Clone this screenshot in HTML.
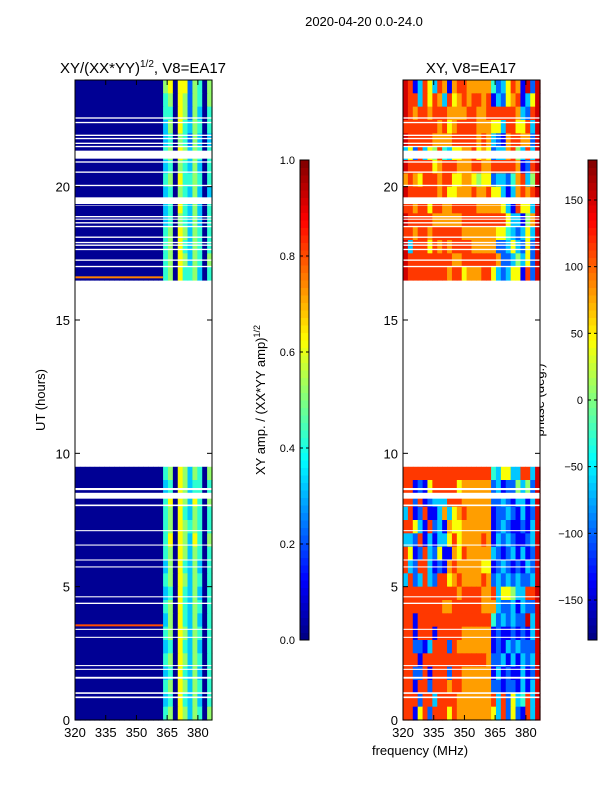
<!DOCTYPE html>
<html><head><meta charset="utf-8"><style>
body{margin:0;background:#fff;}
svg{display:block;font-family:"Liberation Sans",sans-serif;}
text{fill:#000;}
</style></head><body>
<svg id="fig" width="600" height="800" viewBox="0 0 600 800">
<rect width="600" height="800" fill="#fff"/>
<text x="364" y="26" font-size="13" text-anchor="middle">2020-04-20 0.0-24.0</text>
<text x="143" y="73" font-size="15" text-anchor="middle">XY/(XX*YY)<tspan font-size="10" dy="-6">1/2</tspan><tspan dy="6">, V8=EA17</tspan></text>
<text x="471" y="73" font-size="15" text-anchor="middle">XY, V8=EA17</text>
<text transform="translate(45,400) rotate(-90)" font-size="13" text-anchor="middle">UT (hours)</text>
<text x="420" y="755" font-size="13" text-anchor="middle">frequency (MHz)</text>
<text transform="translate(265,400) rotate(-90)" font-size="13" text-anchor="middle">XY amp. / (XX*YY amp)<tspan font-size="9" dy="-5">1/2</tspan></text>
<text transform="translate(544,400) rotate(-90)" font-size="13" text-anchor="middle">phase (deg.)</text>
<g id="p1"></g>
<g id="p2"></g>
<g id="cb"></g>
<g id="ax"></g>
</svg>
<script>
// ---- data ----
const freqMin = 320, freqMax = 386.9, nFreq = 28;
const hourMin = 0, hourMax = 24;
const xTicks = [320, 335, 350, 365, 380];
const yTicks = [0, 5, 10, 15, 20];
const ampTicks = [0.0, 0.2, 0.4, 0.6, 0.8, 1.0];
const phaseTicks = [-150, -100, -50, 0, 50, 100, 150];
const rowStarts = [23.5,23,22.5,22,21.5,21,20.5,20,19.5,19,18.5,18,17.5,17,16.5,
  9,8.5,8,7.5,7,6.5,6,5.5,5,4.5,4,3.5,3,2.5,2,1.5,1,0.5,0];
// amplitude: digit d -> d/10 + 0.02
const ampRows = [
"0000000000000000005606625405",
"0000000000000000004506525405",
"0000000000000000004406525304",
"0000000000000000003506435404",
"0000000000000000003405425303",
"0000000000000000004506535404",
"0000000000000000003405435304",
"0000000000000000004506445404",
"0000000000000000003405435303",
"0000000000000000003406435304",
"0000000000000000003405435304",
"0000000000000000004506535404",
"0000000000000000004506435404",
"0000000000000000004506535405",
"0000000000000000004506445304",
"0000000000000000004506535405",
"0000000000000000003406534404",
"0000000000000000004606536405",
"0000000000000000004506435404",
"0000000000000000004506545404",
"0000000000000000004606536405",
"0000000000000000004506535404",
"0000000000000000003506435304",
"0000000000000000004506535404",
"0000000000000000003406435304",
"0000000000000000004506435404",
"0000000000000000003506435304",
"0000000000000000004506535404",
"0000000000000000003406435304",
"0000000000000000004506535404",
"0000000000000000003406435304",
"0000000000000000004506535404",
"0000000000000000003406435304",
"0000000000000000004506535405"];
// thin RFI streaks in amplitude panel
const streakHour = [16.6, 3.55];
const streakAmp = [0.75, 0.8];
// phase: digit d -> d/10 + 0.02 of [-180,180]
const phaseRows = [
"9813863871788777774236871929",
"9883868738678788781326781369",
"9878878887777887788888873289",
"8888888786788887776638866839",
"9888887777888887873217887729",
"3628365843667786762337853839",
"9888886788877788778888871289",
"7876888788667765662332478359",
"9888888786677787786631378789",
"8878868877888887777763186639",
"9888887777778888888886331579",
"8878878888887777777664323639",
"9388868787888877777223632629",
"9888888888778888888722353629",
"9888888887886777886323661829",
"8888888888888888884366338839",
"8812168888867777772312253529",
"8828123338887777772232133139",
"3812811373678777771223213129",
"8863182317667777771232112139",
"3328131336867777871323211239",
"8612832611768777773212313129",
"8328831217877777661232121329",
"3823832886787777872323232239",
"8888888888878888778366533889",
"8888888877888888777322313229",
"8818888888888888884232322939",
"8818881888887777771211212139",
"8822138882877777771213232229",
"8881888888888888872231313239",
"8822818882887777771312113129",
"8818828887887777772212213139",
"8882883888877777778382634839",
"8816828886877777776382621839"];
// flagged (blank) time intervals, hours
const gapStart = [16.45,22.55,22.38,21.9,21.78,21.6,21.48,21.05,20.9,20.52,20.02,19.35,19.28,18.85,18.76,18.62,18.48,18.08,17.88,17.78,17.62,17.22,16.98,8.62,8.3,8.02,7.08,6.54,5.98,5.72,4.6,4.35,3.38,3.08,2.02,1.88,1.55,0.98,0.82];
const gapEnd   = [9.5,22.6,22.43,21.95,21.83,21.65,21.53,21.35,20.95,20.57,20.07,19.6,19.3,18.9,18.8,18.67,18.53,18.13,17.93,17.83,17.67,17.27,17.03,8.7,8.52,8.08,7.12,6.58,6.02,5.76,4.64,4.4,3.42,3.12,2.06,1.92,1.62,1.04,0.88];

// ---- scales ----
const NS = "http://www.w3.org/2000/svg";
const Y0 = 720, Y1 = 80;
function yS(h){ return Y0 - (h - hourMin) / (hourMax - hourMin) * (Y0 - Y1); }
function xS(f, L, R){ return L + (f - freqMin) / (freqMax - freqMin) * (R - L); }
function jet(v){
  v = Math.max(0, Math.min(1, v));
  const c = x => Math.round(255 * Math.max(0, Math.min(1, 1.5 - Math.abs(x))));
  return `rgb(${c(4*v-3)},${c(4*v-2)},${c(4*v-1)})`;
}
function mk(tag, attrs, parent){
  const e = document.createElementNS(NS, tag);
  for (const k in attrs) e.setAttribute(k, attrs[k]);
  parent.appendChild(e); return e;
}
const panels = [
  {g: document.getElementById('p1'), L: 75, R: 212, rows: ampRows, name: 'amp-cell', map: d => d/10 + 0.02},
  {g: document.getElementById('p2'), L: 403, R: 540, rows: phaseRows, name: 'phase-cell', map: d => d/10 + 0.02}
];
const df = (freqMax - freqMin) / nFreq;
panels.forEach((p, pi) => {
  p.rows.forEach((row, r) => {
    const h0 = rowStarts[r], h1 = h0 + 0.5;
    for (let c = 0; c < nFreq; c++){
      const d = +row[c];
      const x0 = xS(freqMin + c*df, p.L, p.R), x1 = xS(freqMin + (c+1)*df, p.L, p.R);
      const el = mk('rect', {x: x0, y: yS(h1), width: x1 - x0 + 0.6, height: yS(h0) - yS(h1) + 0.6, fill: jet(p.map(d))}, p.g);
      
      
    }
  });
  if (pi === 0){
    streakHour.forEach((h, i) => {
      const el = mk('rect', {x: p.L, y: yS(h) - 1, width: xS(363, p.L, p.R) - p.L, height: 2, fill: jet(streakAmp[i])}, p.g);
      
      
    });
  }
  gapStart.forEach((g, i) => {
    const el = mk('rect', {x: p.L, y: yS(Math.max(gapStart[i], gapEnd[i])), width: p.R - p.L, height: Math.abs(yS(gapEnd[i]) - yS(gapStart[i])), fill: '#fff'}, p.g);
    
    
  });
});

// ---- axes ----
const ax = document.getElementById('ax');
panels.forEach((p, pi) => {
  const fr = mk('rect', {x: p.L, y: Y1, width: p.R - p.L, height: Y0 - Y1, fill: 'none', stroke: '#000', 'stroke-width': 1}, ax);
  
  
  xTicks.forEach(t => {
    const x = xS(t, p.L, p.R);
    mk('line', {x1: x, x2: x, y1: Y0, y2: Y0 - 5, stroke: '#000'}, ax);
    mk('line', {x1: x, x2: x, y1: Y1, y2: Y1 + 5, stroke: '#000'}, ax);
    const tx = mk('text', {x: x, y: Y0 + 17, 'font-size': 13, 'text-anchor': 'middle'}, ax);
    tx.textContent = t;
    
    
  });
  yTicks.forEach(t => {
    const y = yS(t);
    mk('line', {x1: p.L, x2: p.L + 5, y1: y, y2: y, stroke: '#000'}, ax);
    mk('line', {x1: p.R, x2: p.R - 5, y1: y, y2: y, stroke: '#000'}, ax);
    const tx = mk('text', {x: p.L - 5, y: y + 5, 'font-size': 13, 'text-anchor': 'end'}, ax);
    tx.textContent = t;
    
    
  });
});

// ---- colorbars ----
const cb = document.getElementById('cb');
const CB0 = 640, CB1 = 160;
function colorbar(xL, lo, hi, ticks, name){
  const n = 64;
  for (let i = 0; i < n; i++){
    const y = CB0 - (i+1) * (CB0 - CB1) / n;
    mk('rect', {x: xL, y: y, width: 9, height: (CB0 - CB1)/n + 0.5, fill: jet((i + 0.5)/n)}, cb);
  }
  const fr = mk('rect', {x: xL, y: CB1, width: 9, height: CB0 - CB1, fill: 'none', stroke: '#000'}, cb);
  
  
  ticks.forEach(t => {
    const y = CB0 - (t - lo) / (hi - lo) * (CB0 - CB1);
    mk('line', {x1: xL, x2: xL + 3, y1: y, y2: y, stroke: '#000'}, cb);
    mk('line', {x1: xL + 9, x2: xL + 6, y1: y, y2: y, stroke: '#000'}, cb);
    const tx = mk('text', {x: xL - 5, y: y + 4, 'font-size': 11, 'text-anchor': 'end'}, cb);
    tx.textContent = (lo === 0) ? t.toFixed(1) : (t < 0 ? '\u2212' + (-t) : t);
    
    
  });
}
colorbar(300, 0, 1, ampTicks, 'amp-colorbar');
colorbar(588, -180, 180, phaseTicks, 'phase-colorbar');
</script>
</body></html>
